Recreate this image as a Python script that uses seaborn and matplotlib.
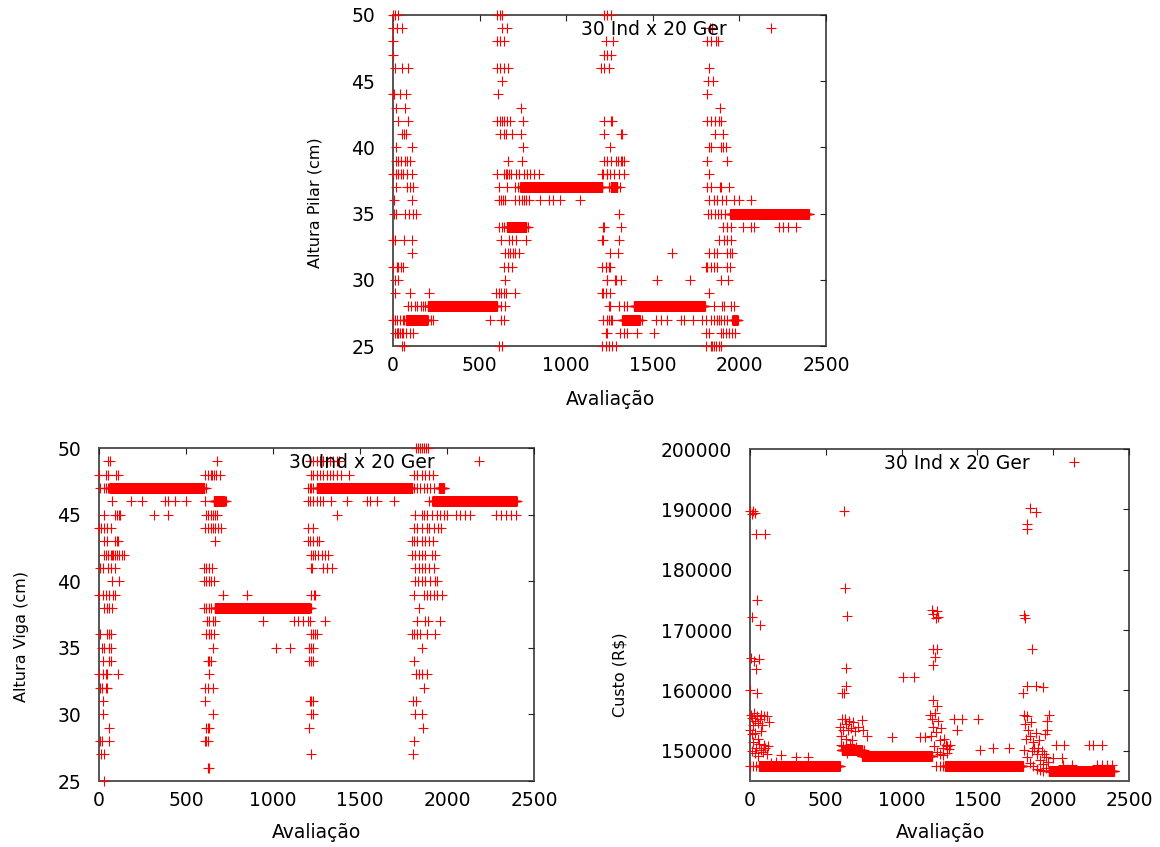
import numpy as np
import pandas as pd
import matplotlib
matplotlib.use('Agg')
import matplotlib.pyplot as plt
import seaborn as sns
from matplotlib.lines import Line2D

# ---------------- Altura Pilar (top plot) ----------------
# converged runs: every evaluation from start to end had this value
pilar_run_start = [75, 200, 658, 735, 1256, 1323, 1391, 1946, 1960]
pilar_run_end = [200, 600, 770, 1208, 1294, 1425, 1800, 2400, 1990]
pilar_run_y = [27, 28, 34, 37, 37, 27, 28, 35, 27]

# scattered evaluations, value -> list of evaluation numbers
pilar_b1 = {
    50: [0, 12, 31], 49: [2, 25, 50], 48: [2], 47: [2], 46: [12, 50, 89],
    44: [0, 6, 40, 75], 43: [17, 70], 42: [31, 89], 41: [50, 64, 75],
    40: [17, 112], 39: [17, 31, 44, 70, 83, 98], 38: [2, 17, 31, 44, 60, 79, 108],
    37: [17, 79, 98, 118], 36: [6, 112], 35: [6, 17, 70, 95, 118, 133],
    33: [0, 12, 64, 108], 32: [112], 31: [0, 25, 31, 44, 60], 30: [12, 31],
    29: [12, 98, 210], 28: [89, 105, 125, 140, 160, 175, 185],
    27: [0, 10, 25, 40, 55, 64, 218, 233, 562],
    26: [12, 21, 26, 31, 41, 50, 56, 75, 98, 118], 25: [50, 64],
}
pilar_b2 = {
    50: [600, 616, 629], 49: [629, 658], 48: [600, 620, 643], 46: [600, 620, 643, 664],
    45: [629], 44: [604], 43: [739], 42: [600, 616, 629, 643, 658, 674, 751],
    41: [616, 639, 654, 687, 739], 40: [751], 39: [662, 745],
    38: [600, 639, 650, 660, 670, 681, 712, 726, 755, 774, 793, 816, 841],
    37: [610, 658, 706, 720],
    36: [610, 623, 635, 648, 706, 726, 745, 758, 770, 783, 851, 899, 924, 966, 1080],
    34: [610, 629, 643, 780], 33: [623, 668, 687, 712, 770],
    32: [648, 662, 678, 693, 706, 726], 31: [643, 662, 687], 30: [648],
    29: [596, 610, 623, 639, 654, 706], 28: [623, 648], 27: [623, 639], 25: [610, 629],
}
pilar_b3 = {
    50: [1217, 1236, 1260], 48: [1227, 1271], 47: [1217, 1233, 1256],
    46: [1202, 1217, 1246], 42: [1221, 1256, 1265], 41: [1217, 1314, 1323], 40: [1252],
    39: [1217, 1236, 1256, 1285, 1300, 1314, 1323, 1333],
    38: [1208, 1213, 1233, 1237, 1252, 1275, 1304, 1333],
    37: [1247, 1310], 35: [1304], 34: [1212, 1221, 1314], 33: [1208, 1213, 1304],
    32: [1250, 1298, 1613], 31: [1207, 1227, 1230, 1246, 1250],
    30: [1233, 1237, 1279, 1290, 1314, 1526, 1715], 29: [1208, 1213, 1227, 1250],
    28: [1247, 1252, 1304, 1333, 1352],
    27: [1212, 1235, 1246, 1256, 1265, 1439, 1516, 1545, 1580, 1665, 1680, 1734, 1786],
    26: [1230, 1233, 1310, 1333, 1352, 1406, 1506],
    25: [1207, 1227, 1246, 1265, 1285],
}
pilar_b4 = {
    49: [1830, 1844], 48: [1811, 1834, 1863, 1877], 46: [1825], 45: [1819, 1850],
    44: [1811], 43: [1888], 42: [1815, 1834, 1857, 1882, 1896], 41: [1857, 1908],
    40: [1825, 1834, 1892, 1908, 1921], 39: [1815, 1931], 38: [1825],
    37: [1815, 1834, 1888, 1896, 1940],
    36: [1825, 1854, 1873, 1902, 1921, 1969, 1998, 2066],
    35: [1819, 1838, 1857, 1877, 1896, 1915],
    34: [1908, 1927, 1950, 2023, 2066, 2085, 2230, 2249, 2278, 2326],
    33: [1883, 1912, 1931, 1950], 32: [1825, 1854, 1873, 1931, 1946, 1960],
    31: [1805, 1815, 1834, 1854, 1873, 1931, 1946], 30: [1896, 1935], 29: [1825],
    28: [1854, 1898, 1912, 1950, 1966],
    27: [1805, 1834, 1854, 1869, 1883, 1896, 1912, 1931],
    26: [1805, 1825, 1892, 1908, 1921, 1940, 1960, 1973],
    25: [1805, 1834, 1844, 1854, 1863, 1883, 1896],
}

# ---------------- Altura Viga (bottom left) ----------------
viga_run_start = [60, 660, 664, 1250, 1952, 1916]
viga_run_end = [605, 722, 1212, 1800, 1981, 2400]
viga_run_y = [47, 46, 38, 47, 47, 46]

viga_b1 = {
    49: [54, 65], 48: [0, 40, 54, 98, 111], 47: [8, 27, 40, 50],
    46: [73, 184, 246, 380, 396, 434, 501], 45: [27, 92, 104, 117, 123, 315, 396],
    44: [2, 12, 27, 46, 69], 43: [31, 46, 92, 104, 111],
    42: [27, 40, 54, 69, 75, 80, 92, 104, 117, 131, 142], 41: [8, 21, 54, 69, 92],
    40: [73, 117], 39: [0, 21, 40, 60, 79, 92], 38: [31, 46, 60, 73],
    36: [8, 46, 60, 69], 35: [15, 27, 60, 69], 34: [21, 60, 69],
    33: [0, 21, 40, 46, 111], 32: [8, 15, 40, 46], 31: [21], 30: [21], 29: [60],
    28: [8, 15, 60], 27: [12, 27], 25: [27],
}
viga_b2 = {
    49: [680], 48: [607, 626, 641, 649, 660, 674, 693], 47: [615], 46: [607, 730],
    45: [616, 626, 641, 655, 668, 680], 44: [611, 626, 641, 655, 668, 684, 703],
    43: [664], 41: [603, 616, 635, 649], 40: [603, 616, 630, 645, 660],
    39: [712, 853], 38: [603, 616, 630, 641],
    37: [622, 635, 655, 668, 943, 1121, 1144, 1173, 1202],
    36: [616, 630, 645, 660], 35: [655, 1020, 1096], 34: [626, 635, 645], 33: [630],
    32: [607, 626, 655], 31: [611], 30: [655], 29: [616, 626, 635],
    28: [607, 616, 626], 26: [626, 635],
}
viga_b3 = {
    49: [1212, 1231, 1250, 1270, 1289, 1308, 1327, 1346, 1366, 1380],
    48: [1221, 1231, 1250, 1270, 1289, 1308, 1327, 1343, 1366, 1389, 1439],
    47: [1202, 1212, 1221, 1231],
    46: [1202, 1212, 1231, 1250, 1270, 1289, 1331, 1424, 1539, 1558, 1597, 1693],
    45: [1366], 44: [1202, 1231], 43: [1202, 1212, 1231, 1250, 1266],
    42: [1221, 1231, 1241, 1260, 1279, 1298, 1318], 41: [1221, 1227, 1289, 1308, 1337],
    39: [1221, 1235, 1240], 38: [1221], 37: [1212, 1298], 36: [1221, 1231, 1240, 1250],
    35: [1206, 1221, 1231], 34: [1206, 1221, 1231], 31: [1212, 1221, 1231],
    30: [1221, 1231], 29: [1208], 27: [1217],
}
viga_b4 = {
    50: [1824, 1835, 1846, 1857, 1868, 1879, 1889],
    48: [1808, 1827, 1856, 1875, 1895, 1920],
    47: [1808, 1827, 1847, 1866, 1885, 1904, 1924], 46: [1895],
    45: [1818, 1856, 1866, 1885, 1914, 1943, 1962, 1981, 2000, 2049, 2077, 2106,
         2131, 2279, 2308, 2337, 2366, 2395],
    44: [1808, 1827, 1856, 1885, 1895, 1924, 1947, 1966],
    43: [1799, 1812, 1827, 1856, 1875, 1895, 1920],
    42: [1799, 1818, 1837, 1856, 1875, 1914, 1933],
    41: [1818, 1837, 1856, 1875, 1895, 1924],
    40: [1818, 1831, 1856, 1875, 1904, 1933, 1943],
    39: [1812, 1866, 1885, 1904, 1924, 1943, 1972], 38: [1837],
    37: [1827, 1875, 1889, 1962], 36: [1799, 1812, 1827, 1847, 1885, 1933],
    35: [1856], 34: [1808], 33: [1823, 1837, 1856, 1885], 32: [1866],
    31: [1804, 1823], 30: [1818, 1856], 29: [1862], 28: [1812], 27: [1804],
}

# ---------------- Custo (bottom right) ----------------
custo_run_start = [60, 605, 740, 1286, 1969]
custo_run_end = [592, 740, 1200, 1800, 2400]
custo_run_y = [147500, 150100, 149200, 147500, 146600]

custo_b1_x = [0, 10, 20, 35, 42, 97, 49, 13, 64, 9, 24, 60, 42, 2, 46,
              5, 15, 25, 35, 45, 55, 65, 80, 95, 110, 125, 20, 70,
              0, 10, 20, 30, 40, 50, 60, 70, 75, 85, 90, 100, 110, 15, 30, 55, 120,
              207, 306, 383, 174, 140, 0, 20, 42]
custo_b1_y = [189700, 189200, 189700, 189400, 185900, 185900, 175000, 172200, 170900,
              165400, 164800, 165200, 163500, 160000, 159600,
              156000, 155500, 156200, 155000, 155800, 154600, 155300, 154200, 155800,
              155700, 154800, 154300, 156000,
              153500, 152800, 151500, 153000, 150500, 152000, 151200, 153300, 150200,
              149800, 151000, 150500, 149500, 150000, 149600, 149200, 150800,
              149300, 149000, 149000, 148200, 148000, 147500, 147500, 147500]

custo_b2_x = [621, 625, 637, 636, 636, 619, 610,
              595, 605, 615, 625, 635, 645, 655, 665, 680, 695, 710, 736, 747, 600, 630, 670,
              769, 934, 600, 615, 640, 660, 700, 730, 755,
              1011, 1081, 1121, 1154]
custo_b2_y = [189700, 177000, 172400, 163700, 160700, 159500, 159500,
              154000, 155200, 153500, 155300, 154500, 153400, 155000, 153800, 154700,
              153300, 154000, 155100, 153500, 152500, 152000, 151800,
              152400, 152300, 151000, 150800, 149600, 151200, 150700, 149800, 150200,
              162200, 162200, 152300, 152300]

custo_b3_x = [1198, 1210, 1225, 1231, 1242, 1209, 1235, 1220, 1205, 1205, 1231,
              1190, 1200, 1210, 1220, 1230, 1240, 1250, 1260, 1270, 1280, 1290, 1300,
              1310, 1319, 1195, 1215, 1235, 1255, 1275, 1300,
              1368, 1396, 1345, 1502, 1517, 1601, 1709, 1230, 1250, 1270]
custo_b3_y = [173400, 172700, 172000, 173200, 172200, 166900, 166900, 165500, 164200,
              158500, 157400,
              156000, 155200, 154000, 156300, 153200, 155000, 151800, 153800, 150500,
              152000, 151000, 150800, 150300, 151000, 152500, 150800, 149800, 149500,
              149300, 149600,
              153400, 155300, 155300, 155300, 150100, 150500, 150400, 147500, 147500, 147500]

custo_b4_x = [1847, 1887, 1825, 1825, 1810, 1812, 1858, 1825, 1887, 1931, 1803,
              1805, 1815, 1825, 1835, 1845, 1855, 1865, 1875, 1885, 1895, 1905, 1915,
              1925, 1935, 1945, 1955, 1965, 1969, 1962, 1962, 1810, 1830, 1850, 1870,
              1890, 1910, 1930, 1950, 1820, 1860, 1900, 1940,
              2019, 2068, 2233, 2261, 2321, 1997, 2057, 2063, 2123, 2288, 2321, 2354, 2387]
custo_b4_y = [190200, 189500, 187500, 186700, 172500, 172000, 166900, 160800, 160700,
              160500, 159500,
              156000, 154500, 155800, 153500, 152500, 154800, 151500, 150500, 153000,
              149500, 151800, 148500, 150000, 147800, 152800, 149000, 148200, 156000,
              154900, 153400, 150200, 149000, 148000, 147500, 147000, 146800, 146600,
              147200, 152000, 150000, 150500, 149500,
              150900, 150900, 150900, 150900, 150900, 148800, 148800, 147600, 147600,
              147600, 147600, 147600, 147600]

legend_label = '30 Ind x 20 Ger'
x_ticks = [0, 500, 1000, 1500, 2000, 2500]


def build_frame(run_start, run_end, run_y, blocks=None, xs=None, ys=None):
    px, py = [], []
    for s, e, v in zip(run_start, run_end, run_y):
        ev = np.arange(s, e + 1)
        px.extend(ev)
        py.extend([v] * len(ev))
    if blocks:
        for blk in blocks:
            for v, evs in blk.items():
                px.extend(evs)
                py.extend([v] * len(evs))
    if xs:
        for a, b in zip(xs, ys):
            px.extend(a)
            py.extend(b)
    return pd.DataFrame({'avaliacao': px, 'valor': py})


df_pilar = build_frame(pilar_run_start, pilar_run_end, pilar_run_y,
                       blocks=[pilar_b1, pilar_b2, pilar_b3, pilar_b4])
df_viga = build_frame(viga_run_start, viga_run_end, viga_run_y,
                      blocks=[viga_b1, viga_b2, viga_b3, viga_b4])
df_custo = build_frame(custo_run_start, custo_run_end, custo_run_y,
                       xs=[custo_b1_x, custo_b2_x, custo_b3_x, custo_b4_x],
                       ys=[custo_b1_y, custo_b2_y, custo_b3_y, custo_b4_y])

sns.set_style('white')
plt.rcParams['font.family'] = ['DejaVu Sans']
plt.rcParams['text.color'] = 'black'

W, H = 1160, 847
fig = plt.figure(figsize=(W / 100, H / 100), dpi=100)


def make_axes(left, top, right, bottom):
    return fig.add_axes([left / W, 1 - bottom / H, (right - left) / W, (bottom - top) / H])


ax_top = make_axes(393, 15, 826, 346)
ax_bl = make_axes(99, 448, 534, 781)
ax_br = make_axes(750, 449, 1129, 781)

panels = [
    (ax_top, df_pilar, (25, 50), [25, 30, 35, 40, 45, 50]),
    (ax_bl, df_viga, (25, 50), [25, 30, 35, 40, 45, 50]),
    (ax_br, df_custo, (145000, 200000), [150000, 160000, 170000, 180000, 190000, 200000]),
]

for ax, df, ylim, yticks in panels:
    sns.scatterplot(data=df, x='avaliacao', y='valor', ax=ax, marker='+',
                    color='#ff0000', s=44, linewidth=0.8, legend=False)
    ax.collections[-1].set_clip_on(False)
    ax.set_xlim(0, 2500)
    ax.set_ylim(*ylim)
    ax.set_xticks(x_ticks)
    ax.set_yticks(yticks)
    ax.set_xlabel('')
    ax.set_ylabel('')
    for sp in ax.spines.values():
        sp.set_color('#555555')
        sp.set_linewidth(1.4)
        sp.set_zorder(0)
    ax.tick_params(axis='both', direction='in', length=4, width=0.8, color='#222222',
                   top=True, right=True, labelsize=13.5, labelcolor='black')
    ax.tick_params(axis='x', pad=7.5)
    ax.tick_params(axis='y', pad=13)
    # key: text first, sample point after
    handle = Line2D([], [], marker='+', color='#ff0000', linestyle='none',
                    markersize=6.6, markeredgewidth=0.8)
    bb = ax.get_window_extent()
    w_px, h_px = bb.width, bb.height
    leg = ax.legend([handle], [legend_label], loc='center right', markerfirst=False,
                    frameon=False, fontsize=13.5, handlelength=1.0, handletextpad=1.85,
                    borderpad=0, borderaxespad=0,
                    bbox_to_anchor=(1 - 45.5 / w_px, 1 - 14.5 / h_px))
    for t in leg.get_texts():
        t.set_color('black')


# axis titles
def ftext(x, y, s, rot=0, size=13.5):
    fig.text(x / W, 1 - y / H, s, rotation=rot, ha='center', va='center',
             fontsize=size, color='black')


ftext(610, 399, 'Avaliação')
ftext(316, 832, 'Avaliação')
ftext(940, 832, 'Avaliação')
ftext(315, 203, 'Altura Pilar (cm)', rot=90, size=11.5)
ftext(22, 636, 'Altura Viga (cm)', rot=90, size=11.5)
ftext(620, 675, 'Custo (R$)', rot=90, size=11.5)

fig.savefig('out.png', dpi=100)
